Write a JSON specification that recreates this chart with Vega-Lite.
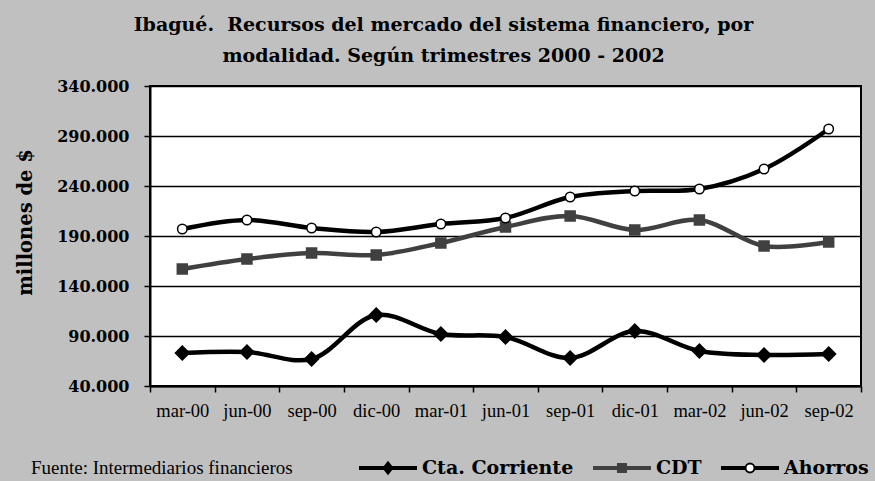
{
  "$schema": "https://vega.github.io/schema/vega-lite/v6.json",
  "width": 711,
  "height": 300,
  "autosize": {"type": "none"},
  "padding": {"left": 150, "top": 86, "right": 14, "bottom": 95},
  "background": "#c0c0c0",
  "title": {
    "text": ["Ibagué.\u00a0 Recursos del mercado del sistema financiero, por", "modalidad. Según trimestres 2000 - 2002"],
    "font": "DejaVu Serif",
    "fontSize": 19,
    "fontWeight": "bold",
    "color": "black",
    "lineHeight": 31,
    "anchor": "middle",
    "dx": -62,
    "offset": 12
  },
  "config": {
    "view": {"fill": "white", "stroke": "black", "strokeWidth": 2}
  },
  "data": {
    "values": [
      {"trimestre": "mar-00", "serie": "Cta. Corriente", "valor": 73000},
      {"trimestre": "jun-00", "serie": "Cta. Corriente", "valor": 74000},
      {"trimestre": "sep-00", "serie": "Cta. Corriente", "valor": 67000},
      {"trimestre": "dic-00", "serie": "Cta. Corriente", "valor": 111000},
      {"trimestre": "mar-01", "serie": "Cta. Corriente", "valor": 92000},
      {"trimestre": "jun-01", "serie": "Cta. Corriente", "valor": 89000},
      {"trimestre": "sep-01", "serie": "Cta. Corriente", "valor": 68000},
      {"trimestre": "dic-01", "serie": "Cta. Corriente", "valor": 95000},
      {"trimestre": "mar-02", "serie": "Cta. Corriente", "valor": 75000},
      {"trimestre": "jun-02", "serie": "Cta. Corriente", "valor": 71000},
      {"trimestre": "sep-02", "serie": "Cta. Corriente", "valor": 72000},
      {"trimestre": "mar-00", "serie": "CDT", "valor": 157000},
      {"trimestre": "jun-00", "serie": "CDT", "valor": 167000},
      {"trimestre": "sep-00", "serie": "CDT", "valor": 173000},
      {"trimestre": "dic-00", "serie": "CDT", "valor": 171000},
      {"trimestre": "mar-01", "serie": "CDT", "valor": 183000},
      {"trimestre": "jun-01", "serie": "CDT", "valor": 199000},
      {"trimestre": "sep-01", "serie": "CDT", "valor": 210000},
      {"trimestre": "dic-01", "serie": "CDT", "valor": 196000},
      {"trimestre": "mar-02", "serie": "CDT", "valor": 206000},
      {"trimestre": "jun-02", "serie": "CDT", "valor": 180000},
      {"trimestre": "sep-02", "serie": "CDT", "valor": 184000},
      {"trimestre": "mar-00", "serie": "Ahorros", "valor": 197000},
      {"trimestre": "jun-00", "serie": "Ahorros", "valor": 206000},
      {"trimestre": "sep-00", "serie": "Ahorros", "valor": 198000},
      {"trimestre": "dic-00", "serie": "Ahorros", "valor": 194000},
      {"trimestre": "mar-01", "serie": "Ahorros", "valor": 202000},
      {"trimestre": "jun-01", "serie": "Ahorros", "valor": 208000},
      {"trimestre": "sep-01", "serie": "Ahorros", "valor": 229000},
      {"trimestre": "dic-01", "serie": "Ahorros", "valor": 235000},
      {"trimestre": "mar-02", "serie": "Ahorros", "valor": 237000},
      {"trimestre": "jun-02", "serie": "Ahorros", "valor": 257000},
      {"trimestre": "sep-02", "serie": "Ahorros", "valor": 297000}
    ]
  },
  "encoding": {
    "x": {
      "field": "trimestre",
      "type": "ordinal",
      "sort": null,
      "bandPosition": 0.5,
      "scale": {"type": "band", "paddingInner": 0, "paddingOuter": 0},
      "axis": {
        "title": null,
        "labelAngle": 0,
        "labelFont": "Liberation Serif",
        "labelFontSize": 18.5,
        "labelColor": "black",
        "labelPadding": 9,
        "tickBand": "extent",
        "tickSize": 6,
        "tickColor": "black",
        "tickWidth": 1.5,
        "domainColor": "black",
        "domainWidth": 2,
        "grid": false
      }
    },
    "y": {
      "field": "valor",
      "type": "quantitative",
      "scale": {"domain": [40000, 340000], "nice": false},
      "axis": {
        "title": "millones de $",
        "titleFont": "DejaVu Serif",
        "titleFontSize": 19.5,
        "titleFontWeight": "bold",
        "titleColor": "black",
        "titlePadding": 21,
        "titleY": 136,
        "values": [40000, 90000, 140000, 190000, 240000, 290000, 340000],
        "labelExpr": "format(datum.value / 1000, 'd') + '.000'",
        "labelFont": "DejaVu Serif",
        "labelFontSize": 16,
        "labelFontWeight": "bold",
        "labelColor": "black",
        "labelPadding": 15,
        "tickSize": 6,
        "tickColor": "black",
        "tickWidth": 1.5,
        "domainColor": "black",
        "domainWidth": 2,
        "grid": true,
        "gridColor": "black",
        "gridWidth": 1.5,
        "gridOpacity": 1
      }
    }
  },
  "layer": [
    {
      "mark": {"type": "line", "interpolate": "catmull-rom", "strokeWidth": 4.5},
      "encoding": {
        "color": {
          "field": "serie",
          "type": "nominal",
          "scale": {"domain": ["Cta. Corriente", "CDT", "Ahorros"], "range": ["black", "#404040", "black"]},
          "legend": {
            "orient": "none",
            "legendX": -119,
            "legendY": 353,
            "direction": "horizontal",
            "padding": 0,
            "title": "Fuente: Intermediarios financieros",
            "titleOrient": "left",
            "titleAnchor": "middle",
            "titleBaseline": "top",
            "titleFont": "Liberation Serif",
            "titleFontSize": 19,
            "titleFontWeight": "normal",
            "titleColor": "black",
            "titleLimit": 400,
            "titlePadding": 66,
            "labelFont": "DejaVu Serif",
            "labelFontSize": 19,
            "labelFontWeight": "bold",
            "labelColor": "black",
            "labelLimit": 300,
            "labelOffset": 5,
            "columnPadding": 16,
            "symbolSize": 3136,
            "symbolStrokeWidth": 2,
            "encode": {
              "symbols": {
                "update": {
                  "shape": {"signal": "datum.value == 'Cta. Corriente' ? 'M-1,-0.036L1,-0.036L1,0.036L-1,0.036Z M-0.16,0L0,-0.2L0.16,0L0,0.2Z' : datum.value == 'CDT' ? 'M-1,-0.036L1,-0.036L1,0.036L-1,0.036Z M-0.145,-0.145L0.145,-0.145L0.145,0.145L-0.145,0.145Z' : 'M-1,-0.036L-0.16,-0.036L-0.16,0.036L-1,0.036Z M0.16,-0.036L1,-0.036L1,0.036L0.16,0.036Z M-0.16,0A0.16,0.16 0 1,0 0.16,0A0.16,0.16 0 1,0 -0.16,0Z'"},
                  "fill": {"signal": "datum.value == 'Ahorros' ? 'white' : datum.value == 'CDT' ? '#404040' : 'black'"},
                  "stroke": {"signal": "datum.value == 'CDT' ? '#404040' : 'black'"},
                  "strokeWidth": {"value": 2},
                  "opacity": {"value": 1}
                }
              }
            }
          }
        }
      }
    },
    {
      "mark": {"type": "point", "filled": true, "opacity": 1, "strokeWidth": 1.5},
      "encoding": {
        "shape": {
          "condition": [
            {"test": "datum.serie == 'Cta. Corriente'", "value": "diamond"},
            {"test": "datum.serie == 'CDT'", "value": "square"}
          ],
          "value": "circle"
        },
        "fill": {
          "condition": [
            {"test": "datum.serie == 'Cta. Corriente'", "value": "black"},
            {"test": "datum.serie == 'CDT'", "value": "#404040"}
          ],
          "value": "white"
        },
        "stroke": {
          "condition": {"test": "datum.serie == 'CDT'", "value": "#404040"},
          "value": "black"
        },
        "size": {
          "condition": [
            {"test": "datum.serie == 'Cta. Corriente'", "value": 190},
            {"test": "datum.serie == 'CDT'", "value": 100}
          ],
          "value": 90
        }
      }
    }
  ]
}
